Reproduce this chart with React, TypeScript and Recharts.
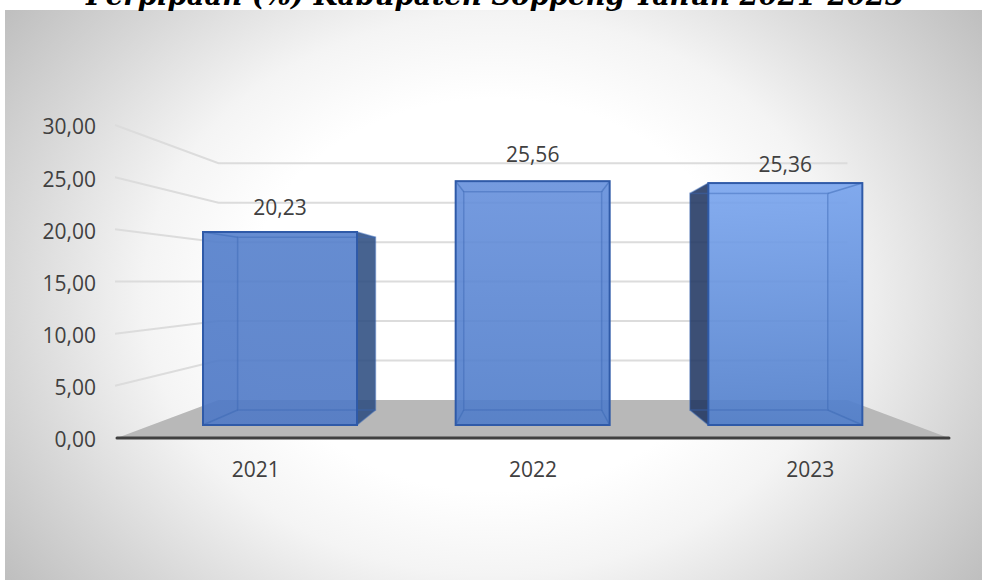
import { Bar, BarChart, CartesianGrid, LabelList, XAxis, YAxis } from 'recharts'

const YEARS = ['2021', '2022', '2023']
const PIPED_PCT = [20.23, 25.56, 25.36]
const Y_TICKS = [0, 5, 10, 15, 20, 25, 30]
const TITLE = 'Perpipaan (%) Kabupaten Soppeng Tahun 2021-2023'

const data = YEARS.map((year, i) => ({ year, value: PIPED_PCT[i] }))

// Vanishing point of the fake 3D view, and how far back each plane sits.
const VP_X = 533
const VP_Y = 282
const WALL_DEPTH = 0.756
const BAR_DEPTH = 0.895

// top / bottom colours of each bar's front face
const BAR_FILL = [
  ['#5580cc', '#4f79c6'],
  ['#6690dc', '#4f7cc9'],
  ['#78a4ee', '#4f7dca'],
]
// how far above the bar top each value label sits
const LABEL_RISE = [17, 19.5, 11.5]

const comma = (v: number) => v.toFixed(2).replace('.', ',')

function GridLine(props: any) {
  const { x1, x2, y1, index } = props
  const backY = VP_Y + (y1 - VP_Y) * WALL_DEPTH
  const backL = VP_X + (x1 - VP_X) * WALL_DEPTH
  const backR = VP_X + (x2 - VP_X) * WALL_DEPTH
  // the bottom grid line is the floor edge
  if (y1 > 430) {
    return (
      <polygon
        key={index}
        points={`${x1},${y1} ${backL},${backY} ${backR},${backY} ${x2},${y1}`}
        fill="#b8b8b8"
      />
    )
  }
  return (
    <path
      key={index}
      d={`M${x1 - 2},${y1} L${backL},${backY} L${backR},${backY}`}
      fill="none"
      stroke="#dcdcdc"
      strokeWidth={2}
    />
  )
}

function Box3D(props: any) {
  const { x, y, width, height, index } = props
  const px = (v: number) => VP_X + (v - VP_X) * BAR_DEPTH
  const py = (v: number) => VP_Y + (v - VP_Y) * BAR_DEPTH
  const l = x
  const r = x + width
  const t = y
  const b = y + height
  const bl = px(l)
  const br = px(r)
  const bt = py(t)
  const bb = py(b)
  const id = `front-${index}`
  const leftOut = bl < l
  const rightOut = br > r
  const edge = '#3a67b4'
  return (
    <g>
      <defs>
        <linearGradient id={id} x1="0" y1="0" x2="0" y2="1">
          <stop offset="0" stopColor={BAR_FILL[index][0]} />
          <stop offset="1" stopColor={BAR_FILL[index][1]} />
        </linearGradient>
      </defs>
      {/* side faces first, the dark one is the one sticking out of the front */}
      <polygon
        points={`${l},${t} ${bl},${bt} ${bl},${bb} ${l},${b}`}
        fill={leftOut ? '#1f3560' : '#3f6dbd'}
        fillOpacity={leftOut ? 0.87 : 0.15}
      />
      <polygon
        points={`${r},${t} ${br},${bt} ${br},${bb} ${r},${b}`}
        fill={rightOut ? '#2c4c80' : '#3f6dbd'}
        fillOpacity={rightOut ? 0.87 : 0.15}
      />
      <rect x={l} y={t} width={width} height={height} fill={`url(#${id})`} fillOpacity={0.9} />
      {/* edges seen through the glass */}
      <rect x={bl} y={bt} width={br - bl} height={bb - bt} fill="none" stroke={edge} strokeOpacity={0.45} strokeWidth={1.5} />
      <path
        d={`M${l},${t} L${bl},${bt} M${r},${t} L${br},${bt} M${l},${b} L${bl},${bb} M${r},${b} L${br},${bb}`}
        stroke={edge}
        strokeOpacity={0.5}
        strokeWidth={1.5}
        fill="none"
      />
      <rect x={l} y={t} width={width} height={height} fill="none" stroke="#2f5aa8" strokeWidth={2} />
    </g>
  )
}

function ValueLabel(props: any) {
  const { x, y, width, index, value } = props
  return (
    <text
      x={x + width / 2}
      y={y - LABEL_RISE[index]}
      textAnchor="middle"
      fontFamily="'Open Sans', sans-serif"
      fontSize={21}
      fill="#404040"
    >
      {comma(value)}
    </text>
  )
}

export default function App() {
  const tick = { fontFamily: "'Open Sans', sans-serif", fontSize: 21, fill: '#404040' }
  return (
    <div style={{ position: 'absolute', left: 0, top: 0, width: 982, height: 580, overflow: 'hidden', background: '#fff' }}>
      <div
        style={{
          position: 'absolute', left: 5, top: 10, width: 977, height: 570,
          background: 'radial-gradient(ellipse 700px 560px at 50% 50%, #ffffff 35%, #f4f4f4 50%, #d6d6d6 70%, #bfbfbf 86%)',
        }}
      />
      <div
        style={{
          position: 'absolute', left: 0, width: 990, top: -21, textAlign: 'center', whiteSpace: 'nowrap',
          fontFamily: "'DejaVu Serif', serif", fontWeight: 700, fontStyle: 'italic', fontSize: 27.5, color: '#000',
        }}
      >
        {TITLE}
      </div>
      <div style={{ position: 'absolute', left: 0, top: 0 }}>
        <BarChart width={982} height={580} data={data} margin={{ top: 125, right: 33, bottom: 112, left: 40 }}>
          <CartesianGrid vertical={false} horizontal={GridLine as any} />
          <XAxis
            dataKey="year"
            tick={tick}
            tickLine={false}
            tickMargin={18}
            height={30}
            axisLine={{ stroke: '#404040', strokeWidth: 3, strokeLinecap: 'round' }}
          />
          <YAxis
            domain={[0, 30]}
            ticks={Y_TICKS}
            tick={{ ...tick, dy: 2 }}
            tickFormatter={comma}
            tickLine={false}
            axisLine={false}
            width={77}
            tickMargin={15}
          />
          {/* the bars stand on a nearer plane than the axes, so they get their own scales */}
          <XAxis xAxisId="bars" dataKey="year" hide padding={{ left: 37, right: 37 }} />
          <YAxis yAxisId="bars" hide domain={[-1.363, 31.447]} allowDataOverflow />
          {/* draws nothing, only keeps the visible axes tied to the data */}
          <Bar dataKey="value" shape={() => null} isAnimationActive={false} />
          <Bar
            dataKey="value"
            xAxisId="bars"
            yAxisId="bars"
            barSize={154}
            shape={Box3D as any}
            isAnimationActive={false}
          >
            <LabelList dataKey="value" content={ValueLabel as any} />
          </Bar>
        </BarChart>
      </div>
    </div>
  )
}
